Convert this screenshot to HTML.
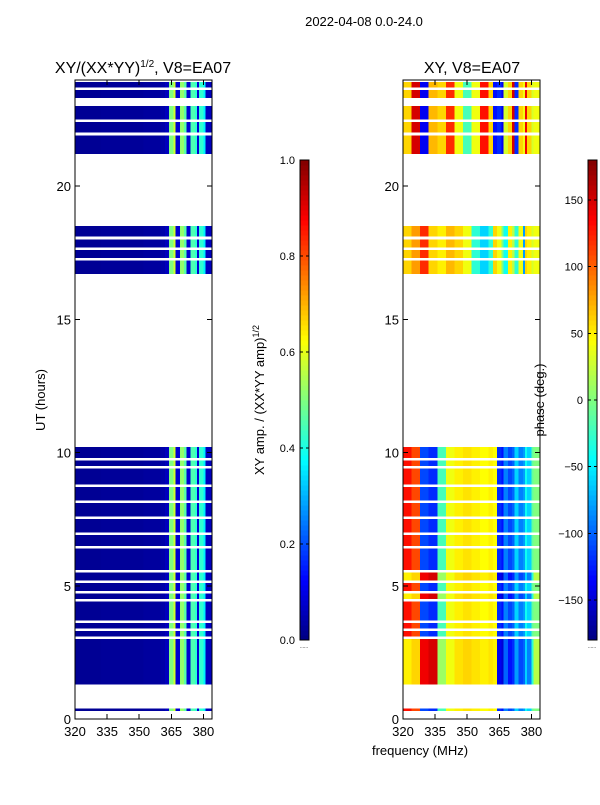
<!DOCTYPE html>
<html><head><meta charset="utf-8"><style>
body{margin:0;background:#fff;}
svg text{font-family:"Liberation Sans",sans-serif;fill:#000;}
</style></head><body>
<svg id="fig" width="600" height="800" xmlns="http://www.w3.org/2000/svg" shape-rendering="crispEdges">
<text x="364" y="26" font-size="13" text-anchor="middle">2022-04-08 0.0-24.0</text>
<text x="143" y="73" font-size="16" text-anchor="middle">XY/(XX*YY)<tspan dy="-6" font-size="10">1/2</tspan><tspan dy="6">, V8=EA07</tspan></text>
<text x="472" y="73" font-size="16" text-anchor="middle">XY, V8=EA07</text>
<text x="420" y="755" font-size="13" text-anchor="middle">frequency (MHz)</text>
<text transform="translate(45,400) rotate(-90)" font-size="13" text-anchor="middle">UT (hours)</text>
<text transform="translate(264,400) rotate(-90)" font-size="13" text-anchor="middle">XY amp. / (XX*YY amp)<tspan dy="-5" font-size="9">1/2</tspan></text>
<text transform="translate(544,400) rotate(-90)" font-size="13" text-anchor="middle">phase (deg.)</text>
<g id="g"></g>
</svg>
<script>
const blocks=[[0.3,0.4],[1.3,3.0],[3.1,3.3],[3.4,3.6],[3.7,4.4],[4.5,4.7],[4.8,5.1],[5.2,5.5],[5.6,6.4],[6.5,6.9],[7.0,7.5],[7.6,8.1],[8.2,8.7],[8.8,9.4],[9.5,9.7],[9.8,10.2],[16.7,17.2],[17.3,17.6],[17.7,18.0],[18.1,18.5],[21.2,21.9],[22.0,22.4],[22.5,23.0],[23.3,23.6],[23.7,23.9]];
const freqEdges=[320,324,328,332,336,340,344,348,352,356,360,362,364,366,367,369,371,372,374,376,377,378,380,381,384];
const ampProfile=[0.02,0.02,0.02,0.025,0.025,0.025,0.025,0.025,0.03,0.03,0.04,0.06,0.5,0.58,0.08,0.52,0.46,0.08,0.45,0.42,0.08,0.42,0.36,0.06];
const phaseA=[130,110,-110,-120,-20,40,50,55,50,45,50,45,-120,-130,-90,-110,-100,-60,-90,-80,-40,-60,-10,0];
const phaseB=[50,60,140,150,10,40,55,60,55,50,55,50,-140,-150,-100,-130,-120,-80,-110,-100,-60,-90,-30,20];
const phaseC=[60,150,-140,70,60,120,40,-20,40,130,60,-130,-120,-140,30,60,150,-120,60,40,140,60,30,40];
const phaseD=[60,80,120,60,50,70,60,40,-30,-60,-30,60,40,0,-40,50,20,-30,40,-80,60,50,30,40];
const blockPhase=["A","B","A","A","A","B","A","B","A","A","A","A","A","A","A","A","D","D","D","D","C","C","C","C","C"];
const profiles={A:phaseA,B:phaseB,C:phaseC,D:phaseD};
const yTicks=[0,5,10,15,20];
const xTicks=[320,335,350,365,380];
const ampTicks=[0.0,0.2,0.4,0.6,0.8,1.0];
const phaseTicks=[-150,-100,-50,0,50,100,150];

const NS="http://www.w3.org/2000/svg";
const g=document.getElementById('g');
function el(t,a,p){const e=document.createElementNS(NS,t);for(const k in a)e.setAttribute(k,a[k]);(p||g).appendChild(e);return e;}
function jet(t){t=Math.max(0,Math.min(1,t));const f=x=>Math.round(255*Math.max(0,Math.min(1,1.5-Math.abs(x))));return `rgb(${f(4*t-3)},${f(4*t-2)},${f(4*t-1)})`;}
const yS=h=>719-h*(639.6/24);
function panel(x0,name,valFn){
  const xS=f=>x0+(f-320)*(137/64);
  const pg=el('g',{});
  
  
  blocks.forEach((b,bi)=>{
    for(let i=0;i<freqEdges.length-1;i++){
      const r=el('rect',{x:xS(freqEdges[i]),y:yS(b[1]),width:xS(freqEdges[i+1])-xS(freqEdges[i])+0.3,height:yS(b[0])-yS(b[1]),fill:valFn(bi,i)},pg);
      
      
    }
  });
  el('rect',{x:x0,y:80,width:137,height:639,fill:'none',stroke:'#000','stroke-width':1},pg);
  yTicks.forEach(v=>{const y=yS(v);el('line',{x1:x0,x2:x0+5,y1:y,y2:y,stroke:'#000'},pg);el('line',{x1:x0+137,x2:x0+132,y1:y,y2:y,stroke:'#000'},pg);
    const t=el('text',{x:x0-4,y:y+5,'font-size':13,'text-anchor':'end'},pg);t.textContent=v;
    
    });
  xTicks.forEach(v=>{const x=xS(v);el('line',{x1:x,x2:x,y1:719,y2:714,stroke:'#000'},pg);el('line',{x1:x,x2:x,y1:80,y2:85,stroke:'#000'},pg);
    const t=el('text',{x:x,y:736,'font-size':13,'text-anchor':'middle'},pg);t.textContent=v;
    
    });
}
panel(75,'amplitude-heatmap',(bi,i)=>jet(ampProfile[i]));
panel(403,'phase-heatmap',(bi,i)=>jet((profiles[blockPhase[bi]][i]+180)/360));
function cbar(x,name,ticks,lo,hi,fmt){
  const cg=el('g',{});
  
  
  for(let k=0;k<96;k++)el('rect',{x:x,y:640-(k+1)*5,width:9,height:5.3,fill:jet((k+0.5)/96)},cg);
  el('rect',{x:x,y:160,width:9,height:480,fill:'none',stroke:'#000'},cg);
  ticks.forEach(v=>{const y=640-(v-lo)/(hi-lo)*480;el('line',{x1:x,x2:x+3,y1:y,y2:y,stroke:'#000'},cg);el('line',{x1:x+9,x2:x+6,y1:y,y2:y,stroke:'#000'},cg);
    const t=el('text',{x:x-5,y:y+4,'font-size':11,'text-anchor':'end'},cg);t.textContent=fmt(v);
    
    });
  const d=el('text',{x:x+4,y:648,'font-size':5,'text-anchor':'middle'},cg);d.textContent='......';
  
  
}
cbar(300,'amplitude-colorbar',ampTicks,0,1,v=>v.toFixed(1));
cbar(588,'phase-colorbar',phaseTicks,-180,180,v=>v<0?'\u2212'+(-v):''+v);
</script>
</body></html>
